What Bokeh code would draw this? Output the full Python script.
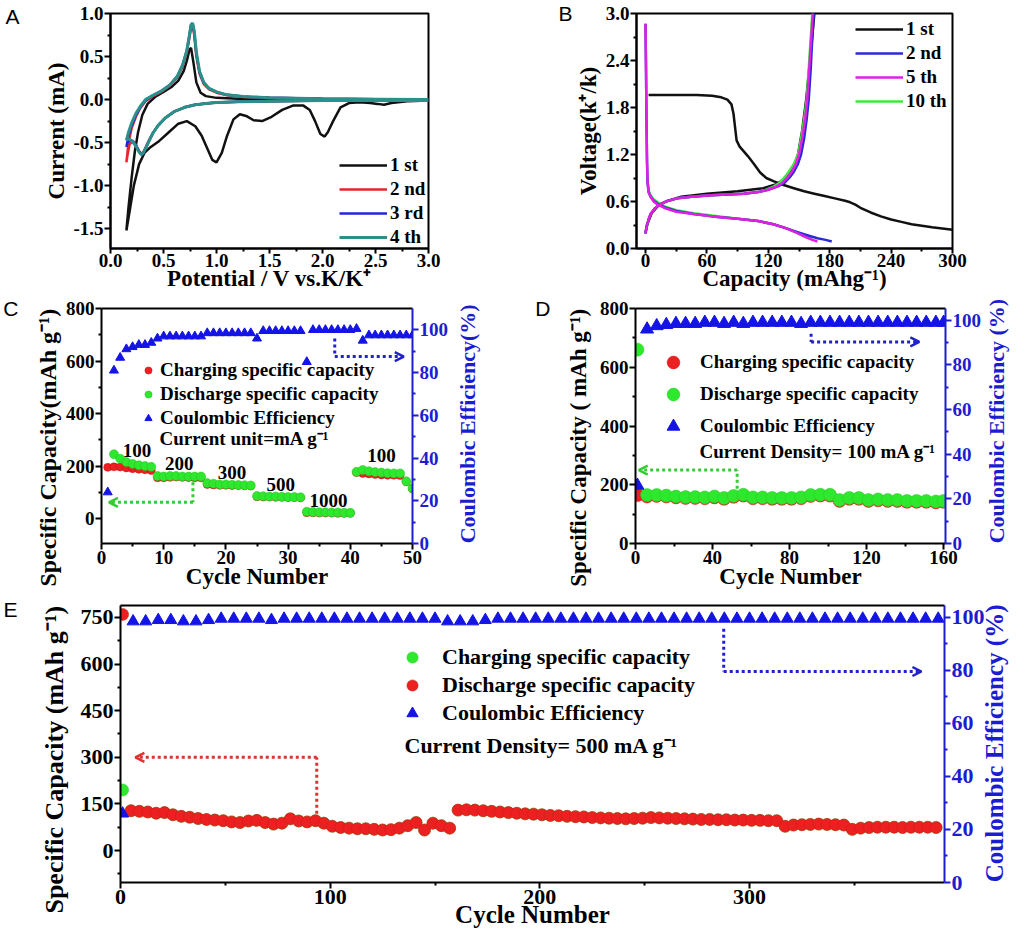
import math
import numpy as np
from bokeh.plotting import figure
from bokeh.layouts import column, row
from bokeh.models import (Range1d, LinearAxis, FixedTicker, PrintfTickFormatter,
                          Legend, LegendItem, Label, Arrow, OpenHead)
from bokeh.core.properties import value
from bokeh.embed import file_html
from bokeh.resources import INLINE

SERIF = "Liberation Serif"
SANS = "Liberation Sans"
AXBLUE = "#1c1cd0"
RED = "#ec2020"
GREEN = "#2ee82e"
BLUE = "#1414e6"

# ---------------- Panel A: cyclic voltammetry ----------------
a_labels = ["1 st", "2 nd", "3 rd", "4 th"]
a_colors = ["#111111", "#e8262a", "#2424e0", "#2a9088"]
a1_v = [3.0, 2.8, 2.65, 2.58, 2.52, 2.45, 2.35, 2.25, 2.17, 2.1,
        2.05, 2.02, 1.98, 1.93, 1.88, 1.82, 1.72, 1.62, 1.52, 1.43,
        1.35, 1.28, 1.22, 1.16, 1.1, 1.05, 1.0, 0.96, 0.91, 0.86,
        0.8, 0.72, 0.64, 0.55, 0.46, 0.38, 0.32, 0.27, 0.22, 0.18, 0.15,
        0.17, 0.2, 0.23, 0.26, 0.3, 0.35, 0.42, 0.5, 0.58, 0.64,
        0.69, 0.72, 0.745, 0.76, 0.78, 0.81, 0.85, 0.9, 1.0, 1.2,
        1.5, 2.0, 2.5, 3.0]
a1_i = [-0.01, -0.02, -0.04, -0.06, -0.05, -0.04, -0.03, -0.04, -0.09, -0.25,
        -0.38, -0.43, -0.4, -0.25, -0.12, -0.07, -0.07, -0.12, -0.2, -0.25,
        -0.24, -0.19, -0.17, -0.23, -0.42, -0.62, -0.73, -0.7, -0.56, -0.42,
        -0.31, -0.25, -0.28, -0.38, -0.48, -0.55, -0.62, -0.75, -1.0, -1.3, -1.52,
        -1.25, -0.9, -0.6, -0.38, -0.18, -0.05, 0.03, 0.09, 0.15, 0.22,
        0.33, 0.45, 0.58, 0.6, 0.45, 0.2, 0.08, 0.04, 0.02, 0.01,
        0.005, 0.0, 0.0, 0.0]
a_v = [3.0, 2.5, 2.0, 1.5, 1.2, 1.0, 0.9, 0.8, 0.7, 0.6,
       0.52, 0.45, 0.4, 0.36, 0.33, 0.31, 0.29, 0.27, 0.24, 0.21,
       0.18, 0.16, 0.15,
       0.17, 0.2, 0.24, 0.28, 0.33, 0.4, 0.48, 0.56, 0.63, 0.68,
       0.72, 0.745, 0.76, 0.775, 0.79, 0.81, 0.84, 0.88, 0.93, 1.0,
       1.1, 1.25, 1.5, 2.0, 2.5, 3.0]
a2_i = [-0.01, -0.01, -0.012, -0.018, -0.025, -0.035, -0.045, -0.06, -0.09, -0.14,
        -0.21, -0.3, -0.39, -0.48, -0.56, -0.61, -0.63, -0.6, -0.53, -0.48,
        -0.52, -0.65, -0.73,
        -0.5, -0.33, -0.2, -0.1, -0.02, 0.04, 0.09, 0.16, 0.26, 0.38,
        0.55, 0.72, 0.84, 0.86, 0.75, 0.5, 0.3, 0.18, 0.12, 0.08,
        0.05, 0.03, 0.02, 0.01, 0.005, 0.0]
a3_i = [-0.01, -0.01, -0.012, -0.018, -0.025, -0.035, -0.045, -0.06, -0.09, -0.14,
        -0.21, -0.3, -0.39, -0.49, -0.57, -0.62, -0.64, -0.6, -0.53, -0.48,
        -0.47, -0.5, -0.55,
        -0.42, -0.3, -0.18, -0.09, -0.01, 0.05, 0.1, 0.17, 0.27, 0.4,
        0.57, 0.75, 0.87, 0.88, 0.78, 0.53, 0.32, 0.19, 0.13, 0.09,
        0.055, 0.035, 0.02, 0.01, 0.005, 0.0]
a4_i = [-0.01, -0.01, -0.012, -0.018, -0.025, -0.035, -0.045, -0.06, -0.09, -0.14,
        -0.21, -0.3, -0.39, -0.49, -0.57, -0.62, -0.64, -0.61, -0.54, -0.49,
        -0.46, -0.46, -0.47,
        -0.38, -0.27, -0.16, -0.08, 0.0, 0.05, 0.1, 0.17, 0.27, 0.4,
        0.57, 0.75, 0.87, 0.89, 0.8, 0.55, 0.33, 0.2, 0.13, 0.09,
        0.055, 0.035, 0.02, 0.01, 0.005, 0.0]
a_xticks = [0.0, 0.5, 1.0, 1.5, 2.0, 2.5, 3.0]
a_xminor = [0.25, 0.75, 1.25, 1.75, 2.25, 2.75]
a_yticks = [-1.5, -1.0, -0.5, 0.0, 0.5, 1.0]
a_yminor = [-1.75, -1.25, -0.75, -0.25, 0.25, 0.75]

# ---------------- Panel B: charge/discharge profiles ----------------
b_labels = ["1 st", "2 nd", "5 th", "10 th"]
b_colors = ["#111111", "#2a2ad8", "#e020e0", "#3ee83e"]
b1_dis_x = [3, 10, 30, 50, 65, 74, 80, 84, 86, 87.5, 89, 92, 96, 100, 106, 112, 118, 125,
            135, 145, 155, 165, 175, 185, 195, 200, 205, 210, 220, 230, 240, 250, 260,
            270, 280, 290, 300]
b1_dis_v = [1.96, 1.96, 1.96, 1.96, 1.95, 1.93, 1.9, 1.84, 1.72, 1.55, 1.38, 1.3, 1.24,
            1.18, 1.08, 0.97, 0.9, 0.86, 0.81, 0.77, 0.73, 0.7, 0.67, 0.64, 0.61, 0.59,
            0.56, 0.52, 0.46, 0.41, 0.37, 0.34, 0.31, 0.29, 0.27, 0.255, 0.24]
b1_chg_x = [0, 2, 6, 12, 20, 35, 60, 90, 115, 128, 137, 144, 149, 153, 157, 160, 163, 165]
b1_chg_v = [0.2, 0.32, 0.45, 0.54, 0.6, 0.66, 0.7, 0.73, 0.77, 0.82, 0.9, 1.02, 1.2, 1.5,
            1.9, 2.3, 2.7, 3.0]
b2_dis_x = [0, 0.5, 1, 1.5, 2, 3, 5, 8, 12, 20, 30, 47, 65, 90, 110, 125, 137, 148, 158,
            168, 176, 182]
b2_dis_v = [2.87, 2.3, 1.6, 1.1, 0.85, 0.72, 0.66, 0.61, 0.57, 0.52, 0.48, 0.44, 0.41,
            0.38, 0.35, 0.31, 0.26, 0.21, 0.17, 0.13, 0.11, 0.09]
b5_dis_x = [0, 0.5, 1, 1.5, 2, 3, 5, 8, 12, 20, 30, 47, 65, 90, 110, 125, 137, 148, 156,
            163, 168]
b5_dis_v = [2.87, 2.3, 1.6, 1.1, 0.85, 0.72, 0.66, 0.6, 0.56, 0.51, 0.47, 0.44, 0.41,
            0.38, 0.35, 0.31, 0.26, 0.2, 0.15, 0.11, 0.09]
b10_dis_x = [2, 3, 5, 8, 12, 20, 30, 47, 65, 90, 110, 125, 137, 148, 156, 163]
b10_dis_v = [0.9, 0.74, 0.68, 0.63, 0.59, 0.53, 0.49, 0.45, 0.42, 0.38, 0.35, 0.31, 0.26,
             0.2, 0.15, 0.12]
b_chg_v = [0.19, 0.28, 0.37, 0.44, 0.51, 0.57, 0.61, 0.64, 0.66, 0.68, 0.69, 0.7, 0.72,
           0.75, 0.79, 0.84, 0.91, 0.98, 1.08, 1.2, 1.4, 1.65, 1.9, 2.3, 2.7, 3.0]
b2_chg_x = [0, 1, 3, 5, 9, 15, 22, 31, 45, 64, 80, 96, 110, 120, 129, 136, 141, 145, 149,
            152, 155, 157.5, 159.5, 161.5, 163, 164.5]
b5_chg_x = [0, 1, 3, 5, 9, 15, 22, 31, 45, 64, 80, 96, 110, 120, 128, 134, 139, 143, 147,
            150, 153, 156, 158, 160, 162, 163.5]
b10_chg_x = [0, 1, 3, 5, 9, 15, 22, 31, 45, 64, 80, 96, 110, 118, 125, 131, 136, 140, 145,
             149, 152, 155, 157.5, 159.5, 161.5, 163]
b_xticks = [0, 60, 120, 180, 240, 300]
b_xminor = [30, 90, 150, 210, 270]
b_yticks = [0.0, 0.6, 1.2, 1.8, 2.4, 3.0]
b_yminor = [0.3, 0.9, 1.5, 2.1, 2.7]

# ---------------- Panel C: rate performance ----------------
c_cycles = list(range(1, 51))
c_charge = [195, 197, 196, 193, 190, 188, 186, 183,
            155, 155, 157, 158, 157, 156, 155, 155,
            130, 128, 127, 127, 126, 126, 125, 124,
            83, 82, 82, 81, 81, 80, 80, 79,
            22, 22, 21, 21, 21, 20, 20, 20,
            175, 172, 170, 168, 166, 165, 165, 164,
            140, 113]
c_disch = [np.nan, 245, 228, 215, 208, 203, 200, 197,
           162, 160, 162, 162, 160, 160, 160, 160,
           135, 133, 130, 130, 129, 128, 127, 126,
           86, 85, 84, 84, 83, 82, 82, 81,
           26, 25, 24, 24, 23, 23, 22, 22,
           178, 185, 180, 177, 175, 173, 172, 172,
           142, 115]
c_ce = [24, 81, 87, 91, 92, 93, 93, 94,
        96, 97, 97, 97, 97, 97, 97, 97,
        98.5, 98.5, 98.5, 98.5, 98.5, 98.5, 98.5, 98.5,
        96, 99.5, 99.5, 99.5, 99.5, 99.5, 99.5, 99.5,
        85, 100, 100, 100, 100, 100, 100, 100,
        100.5, 95, 97.5, 97.5, 97.5, 97.5, 97.5, 97.5,
        97.5, 97.5]
c_rate_txt = ["100", "200", "300", "500", "1000", "100"]
c_rate_x = [5.7, 12.5, 21.0, 28.8, 36.5, 45.0]
c_rate_y = [258, 208, 175, 129, 68, 239]
c_arrow_cap_x = [14.7, 14.7, 1.2]
c_arrow_cap_y = [138, 62, 62]
c_arrow_ce_x = [37.5, 37.5, 48.6]
c_arrow_ce_y = [96, 87.5, 87.5]
c_xticks = [0, 10, 20, 30, 40, 50]
c_xminor = [5, 15, 25, 35, 45]
c_yticks = [0, 200, 400, 600, 800]
c_yminor = [-100, 100, 300, 500, 700]
ce_ticks = [0, 20, 40, 60, 80, 100]
ce_minor = [10, 30, 50, 70, 90]

# ---------------- Panel D: cycling at 100 mA/g ----------------
d_cycles = [1] + list(range(6, 157, 5)) + [160]
d_disch = [660, 165, 165, 163, 160, 158, 158, 157, 160, 155,
           162, 166, 157, 157, 155, 155, 155, 157, 165, 166,
           166, 148, 155, 155, 148, 150, 148, 148, 145, 145,
           145, 143, 145]
d_charge = [165, 160, 162, 160, 157, 155, 155, 154, 157, 152,
            159, 163, 154, 154, 152, 152, 152, 154, 162, 163,
            163, 145, 152, 152, 145, 147, 145, 145, 142, 142,
            142, 140, 142]
d_ce = [26, 96, 97.5, 98, 98.5, 98.5, 98.5, 99, 99, 98.5,
        99, 98.5, 99, 99, 99, 99, 99, 98.5, 99, 99,
        99, 99, 99, 99, 99, 99, 99, 99, 99, 99,
        99, 99, 99]
d_arrow_cap_x = [52.8, 52.8, 1.7]
d_arrow_cap_y = [186, 250, 250]
d_arrow_ce_x = [91.2, 91.2, 147.4]
d_arrow_ce_y = [94, 90.3, 90.3]
d_xticks = [0, 40, 80, 120, 160]
d_xminor = [20, 60, 100, 140]
d_yticks = [0, 200, 400, 600, 800]
d_yminor = [100, 300, 500, 700]

# ---------------- Panel E: long cycling at 500 mA/g ----------------
e_disch = [760, 128, 126, 124, 120, 122, 115, 110, 107, 103,
           100, 98, 96, 92, 90, 95, 97, 90, 85, 88,
           102, 95, 92, 96, 88, 78, 74, 72, 70, 70,
           68, 66, 67, 72, 80, 90, 66, 88, 80, 72,
           130, 131, 130, 128, 126, 124, 122, 120, 118, 117,
           115, 113, 112, 110, 109, 108, 106, 105, 104, 103,
           102, 103, 104, 106, 105, 104, 103, 102, 101, 100,
           100, 99, 99, 98, 98, 97, 97, 96, 96, 78,
           82, 83, 84, 85, 84, 83, 82, 68, 72, 74,
           75, 75, 75, 74, 75, 75, 75, 74]
e_cycles = list(range(1, 390, 4))
# charge capacity overlaps the discharge points after the first cycle
e_charge = [195] + e_disch[1:]
e_ce_cycles = [1] + list(range(6, 391, 6))
e_ce = [26,
        98.5, 98.5, 99.0, 99.0, 98.5, 98.5, 99.0, 99.5, 99.5, 99.5,
        99.5, 99.0, 99.5, 99.5, 99.5, 99.5, 99.5, 99.5, 99.5, 99.5,
        99.5, 99.5, 99.5, 99.5, 99.5, 98.5, 98.5, 98.5, 99.0, 99.5,
        99.5, 99.5, 99.5, 99.5, 99.5, 99.5, 99.5, 99.5, 99.5, 99.5,
        99.5, 99.5, 99.5, 99.5, 99.5, 99.5, 99.5, 99.5, 99.5, 99.5,
        99.5, 99.5, 99.5, 99.5, 99.5, 99.5, 99.5, 99.5, 99.5, 99.5,
        99.5, 99.5, 99.5, 99.5, 99.5]
e_arrow_cap_x = [93.6, 93.6, 7.1]
e_arrow_cap_y = [118, 300, 300]
e_arrow_ce_x = [287.7, 287.7, 382]
e_arrow_ce_y = [95.7, 79.6, 79.6]
e_xticks = [0, 100, 200, 300]
e_xminor = [50, 150, 250, 350]
e_yticks = [0, 150, 300, 450, 600, 750]
e_yminor = [-75, 75, 225, 375, 525, 675]


# ---------------- helpers ----------------
def make_fig(w, h, l, r, t, b, xr, yr, box=True, ce_top=None):
    p = figure(width=w, height=h, x_range=Range1d(*xr), y_range=Range1d(*yr),
               output_backend="svg", toolbar_location=None,
               min_border_left=l, min_border_right=r, min_border_top=t, min_border_bottom=b)
    ranges = {"lab": Range1d(-0.001, 1.001)}
    if ce_top is not None:
        ranges["ce"] = Range1d(0, ce_top)
    p.extra_y_ranges = ranges
    p.xgrid.visible = False
    p.ygrid.visible = False
    p.background_fill_color = "white"
    p.border_fill_color = "white"
    if box:
        p.outline_line_color = "black"
        p.outline_line_width = 2
        p.outline_line_alpha = 1.0
    else:
        p.outline_line_color = None
        top = LinearAxis(ticker=FixedTicker(ticks=[]), axis_line_width=2,
                         axis_line_color="black", major_tick_out=0, major_tick_in=0,
                         minor_tick_out=0, minor_tick_in=0, major_label_standoff=0,
                         axis_label_standoff=0)
        p.add_layout(top, "above")
    return p


def style_axis(ax, ticks, minor, tick_px, label_px, color="black",
               lab_standoff=2, maj_standoff=1, fmt=None, tick_out=6):
    ax.ticker = FixedTicker(ticks=ticks, minor_ticks=minor)
    if fmt:
        ax.formatter = PrintfTickFormatter(format=fmt)
    ax.axis_line_width = 2
    ax.axis_line_color = color
    ax.major_tick_line_color = color
    ax.major_tick_line_width = 2
    ax.minor_tick_line_color = color
    ax.minor_tick_line_width = 2
    ax.major_tick_out = tick_out
    ax.major_tick_in = 0
    ax.minor_tick_out = 3
    ax.minor_tick_in = 0
    ax.major_label_text_font = SERIF
    ax.major_label_text_font_style = "bold"
    ax.major_label_text_font_size = f"{tick_px}px"
    ax.major_label_text_color = color
    ax.axis_label_text_font = SERIF
    ax.axis_label_text_font_style = "bold"
    ax.axis_label_text_font_size = f"{label_px}px"
    ax.axis_label_text_color = color
    ax.axis_label_standoff = lab_standoff
    ax.major_label_standoff = maj_standoff


def text_axis(p, side, text, pos, standoff, font, size, style, color, angle=None):
    # an axis without line or ticks that carries a single text at one position
    ax = LinearAxis(y_range_name="lab",
                    ticker=FixedTicker(ticks=[pos], minor_ticks=[]),
                    formatter=PrintfTickFormatter(format=text.replace("%", "%%")),
                    axis_line_color=None, major_tick_line_color=None,
                    minor_tick_line_color=None, major_tick_out=0, major_tick_in=0,
                    minor_tick_out=0, minor_tick_in=0, major_label_standoff=standoff,
                    major_label_text_font=font, major_label_text_font_size=size,
                    major_label_text_font_style=style, major_label_text_color=color)
    if angle is not None:
        ax.major_label_orientation = angle
    p.add_layout(ax, side)
    return ax


def ce_axis(p, label, tick_px, label_px, standoff):
    ax = LinearAxis(y_range_name="ce")
    style_axis(ax, ce_ticks, ce_minor, tick_px, label_px, color=AXBLUE, maj_standoff=1)
    p.add_layout(ax, "right")
    # axis title reading bottom-to-top, starting at the bottom of the frame
    text_axis(p, "right", label, 0.0, standoff, SERIF, f"{label_px}px", "bold", AXBLUE,
              angle=math.pi / 2)


def left_title(p, label, top_pos, size, standoff):
    # axis title reading bottom-to-top, hanging down from top_pos
    text_axis(p, "left", label, top_pos, standoff, SERIF, size, "bold", "black",
              angle=math.pi / 2)


def letter(p, txt, pos, standoff):
    text_axis(p, "left", txt, pos, standoff, SANS, "21px", "normal", "black")


def note(p, txt, x, y, size):
    p.add_layout(Label(x=x, y=y, x_units="screen", y_units="screen", text=txt,
                       text_font=SERIF, text_font_style="bold", text_font_size=size,
                       text_color="black", text_baseline="middle", text_align="left"))


def dotted_arrow(p, xs, ys, color, range_name=None):
    kw = {}
    if range_name:
        kw["y_range_name"] = range_name
    p.line(xs[:2], ys[:2], line_color=color, line_width=3, line_dash="3 3", **kw)
    arr = Arrow(end=OpenHead(size=9, line_color=color, line_width=2.5),
                x_start=xs[1], y_start=ys[1], x_end=xs[2], y_end=ys[2],
                line_color=color, line_width=3, line_dash="3 3", **kw)
    p.add_layout(arr)


def make_legend(items, loc, gw, gh, spacing, standoff, size):
    return Legend(items=items, location=loc, orientation="vertical",
                  glyph_width=gw, glyph_height=gh, label_height=gh, label_width=10,
                  spacing=spacing, padding=0, margin=0, label_standoff=standoff,
                  border_line_color=None, background_fill_alpha=0,
                  label_text_font=SERIF, label_text_font_style="bold",
                  label_text_font_size=size, label_text_color="black")


# ---------------- Panel A ----------------
pA = make_fig(518, 296, 110, 90, 13, 48, (0, 3.0), (-1.73, 1.0))
rA = []
for ii, cur in enumerate([a1_i, a2_i, a3_i, a4_i]):
    vv = a1_v if ii == 0 else a_v
    rA.append(pA.line(vv, cur, line_color=a_colors[ii], line_width=3 if ii == 3 else 2.5))
style_axis(pA.below[0], a_xticks, a_xminor, 19, 23, lab_standoff=-4, maj_standoff=0,
           fmt="%.1f", tick_out=5)
style_axis(pA.left[0], a_yticks, a_yminor, 19, 23, lab_standoff=1, fmt="%.1f")
pA.below[0].axis_label = "Potential / V vs.K/K\u207a"
pA.left[0].axis_label = "Current (mA)"
pA.add_layout(make_legend([LegendItem(label=a_labels[k], renderers=[rA[k]]) for k in range(4)],
                          (229, 0), 48, 20, 2, 3, "19px"))
letter(pA, "A", 0.987, 22)

# ---------------- Panel B ----------------
pB = make_fig(506, 296, 118, 72, 13, 48, (-8.8, 300), (0, 3.0))
rB1 = pB.line(b1_dis_x, b1_dis_v, line_color=b_colors[0], line_width=2.5)
pB.line(b1_chg_x, b1_chg_v, line_color=b_colors[0], line_width=2.5)
rB10 = pB.line(b10_dis_x, b10_dis_v, line_color=b_colors[3], line_width=2.5)
pB.line(b10_chg_x, b_chg_v, line_color=b_colors[3], line_width=2.5)
rB2 = pB.line(b2_dis_x, b2_dis_v, line_color=b_colors[1], line_width=2.5)
pB.line(b2_chg_x, b_chg_v, line_color=b_colors[1], line_width=2.5)
rB5 = pB.line(b5_dis_x, b5_dis_v, line_color=b_colors[2], line_width=2.5)
pB.line(b5_chg_x, b_chg_v, line_color=b_colors[2], line_width=2.5)
style_axis(pB.below[0], b_xticks, b_xminor, 19, 23, lab_standoff=-4, maj_standoff=0,
           tick_out=5)
style_axis(pB.left[0], b_yticks, b_yminor, 19, 23, lab_standoff=2, fmt="%.1f")
pB.below[0].axis_label = "Capacity (mAhg\u207b\u00b9)"
pB.left[0].axis_label = "Voltage(k\u207a/k)"
pB.add_layout(make_legend([LegendItem(label=b_labels[0], renderers=[rB1]),
                           LegendItem(label=b_labels[1], renderers=[rB2]),
                           LegendItem(label=b_labels[2], renderers=[rB5]),
                           LegendItem(label=b_labels[3], renderers=[rB10])],
                          (219, 136), 48, 20, 2, 3, "19px"))
letter(pB, "B", 1.0, 0)

# ---------------- Panel C ----------------
pC = make_fig(518, 301, 96, 106, 11, 54, (0, 50), (-95, 800), box=False, ce_top=110)
ce_axis(pC, "Coulombic Efficiency(%)", 19, 22, 16)
rCc = pC.scatter(c_cycles, c_charge, marker="circle", size=8, fill_color=RED,
                 line_color="#c01010", line_width=0.5)
rCd = pC.scatter(c_cycles, np.array(c_disch, dtype=float), marker="circle", size=9,
                 fill_color=GREEN, line_color="#22c022", line_width=0.5)
rCe = pC.scatter(c_cycles, c_ce, marker="triangle", size=9, fill_color=BLUE,
                 line_color=BLUE, y_range_name="ce")
pC.text(x=c_rate_x, y=c_rate_y, text=c_rate_txt, text_font=value(SERIF),
        text_font_style="bold", text_font_size="19px", text_align="center",
        text_baseline="middle", text_color="black")
dotted_arrow(pC, c_arrow_cap_x, c_arrow_cap_y, "#33cc33")
dotted_arrow(pC, c_arrow_ce_x, c_arrow_ce_y, "#2020d0", "ce")
style_axis(pC.below[0], c_xticks, c_xminor, 19, 23, lab_standoff=-3)
style_axis(pC.left[0], c_yticks, c_yminor, 19, 23, lab_standoff=3)
pC.below[0].axis_label = "Cycle Number"
left_title(pC, "Specific Capacity(mAh g\u207b\u00b9)", 1.0, "24px", 15)
pC.add_layout(make_legend([LegendItem(label="Charging specific capacity", renderers=[rCc]),
                           LegendItem(label="Discharge specific capacity", renderers=[rCd]),
                           LegendItem(label="Coulombic Efficiency", renderers=[rCe])],
                          (38, 114), 18, 18, 2, 3, "19px"))
note(pC, "Current unit=mA g\u207b\u00b9", 58, 105, "19px")
letter(pC, "C", 1.0, 0)

# ---------------- Panel D ----------------
pD = make_fig(506, 301, 117, 74, 12, 52, (0, 161), (0, 800), box=False, ce_top=105.3)
ce_axis(pD, "Coulombic Efficiency (%)", 19, 22, 12)
rDc = pD.scatter(d_cycles, d_charge, marker="circle", size=13, fill_color=RED,
                 line_color="#d01818", line_width=0.5)
rDd = pD.scatter(d_cycles, d_disch, marker="circle", size=13, fill_color=GREEN,
                 line_color="#22d022", line_width=0.5)
rDe = pD.scatter(d_cycles, d_ce, marker="triangle", size=13, fill_color=BLUE,
                 line_color=BLUE, y_range_name="ce")
dotted_arrow(pD, d_arrow_cap_x, d_arrow_cap_y, "#33cc33")
dotted_arrow(pD, d_arrow_ce_x, d_arrow_ce_y, "#2020d0", "ce")
style_axis(pD.below[0], d_xticks, d_xminor, 19, 23, lab_standoff=-3)
style_axis(pD.left[0], d_yticks, d_yminor, 19, 23, lab_standoff=5)
pD.below[0].axis_label = "Cycle Number"
left_title(pD, "Specific Capacity ( mAh g\u207b\u00b9)", 1.0, "23px", 18)
pD.add_layout(make_legend([LegendItem(label="Charging specific capacity", renderers=[rDc]),
                           LegendItem(label="Discharge specific capacity", renderers=[rDd]),
                           LegendItem(label="Coulombic Efficiency", renderers=[rDe])],
                          (22, 101), 32, 32, 0, 11, "19px"))
note(pD, "Current Density= 100 mA g\u207b\u00b9", 64, 92, "19px")
letter(pD, "D", 1.0, 0)

# ---------------- Panel E ----------------
pE = make_fig(1024, 341, 115, 76, 8, 56, (0, 393), (-103, 788.6), box=False, ce_top=104.5)
ce_axis(pE, "Coulombic Efficiency (%)", 22, 25, 7)
rEc = pE.scatter(e_cycles, e_charge, marker="circle", size=12, fill_color=GREEN,
                 line_color="#22d022", line_width=0.5)
rEd = pE.scatter(e_cycles, e_disch, marker="circle", size=12, fill_color=RED,
                 line_color="#d01818", line_width=0.5)
rEe = pE.scatter(e_ce_cycles, e_ce, marker="triangle", size=12, fill_color=BLUE,
                 line_color=BLUE, y_range_name="ce")
dotted_arrow(pE, e_arrow_cap_x, e_arrow_cap_y, "#e03030")
dotted_arrow(pE, e_arrow_ce_x, e_arrow_ce_y, "#2020d0", "ce")
style_axis(pE.below[0], e_xticks, e_xminor, 22, 25, lab_standoff=-6, maj_standoff=1)
style_axis(pE.left[0], e_yticks, e_yminor, 22, 25, lab_standoff=8)
pE.below[0].axis_label = "Cycle Number"
left_title(pE, "Specific Capacity (mAh g\u207b\u00b9)", 1.0, "26px", 23)
pE.add_layout(make_legend([LegendItem(label="Charging specific capacity", renderers=[rEc]),
                           LegendItem(label="Discharge specific capacity", renderers=[rEd]),
                           LegendItem(label="Coulombic Efficiency", renderers=[rEe])],
                          (278, 155), 28, 28, 0, 16, "22px"))
note(pE, "Current Density= 500 mA g\u207b\u00b9", 284, 137, "22px")
letter(pE, "E", 0.989, 5)

layout = column(row(pA, pB), row(pC, pD), pE)
open("out.html", "w").write(file_html(layout, INLINE))
